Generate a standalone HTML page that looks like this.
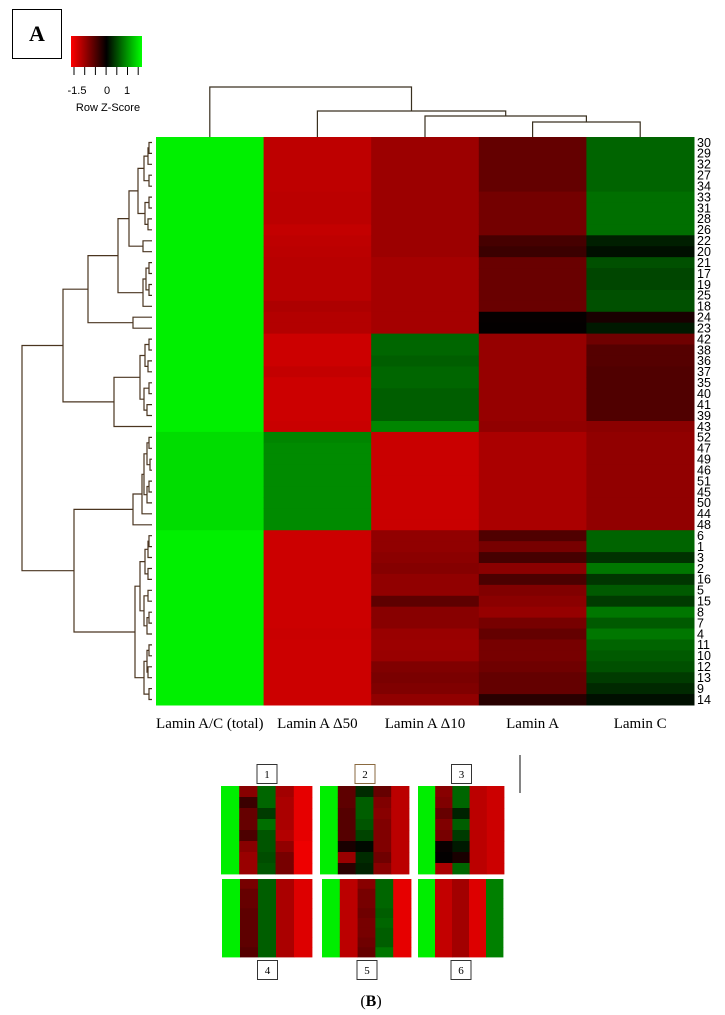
<!DOCTYPE html>
<html><head><meta charset="utf-8"><style>
html,body{margin:0;padding:0;background:#fff;width:725px;height:1015px;overflow:hidden}
svg{display:block}
</style></head><body>
<svg id="fig" width="725" height="1015" viewBox="0 0 725 1015" xmlns="http://www.w3.org/2000/svg">
<defs><linearGradient id="zgrad" x1="0" x2="1" y1="0" y2="0">
<stop offset="0" stop-color="#ff0000"/><stop offset="0.5" stop-color="#000"/><stop offset="1" stop-color="#00ff00"/></linearGradient></defs>
<g>
<rect x="12.5" y="9.5" width="49" height="49" fill="#fff" stroke="#000" stroke-width="1"/>
<text x="37" y="41" text-anchor="middle" font-family="Liberation Serif, serif" font-weight="bold" font-size="22">A</text></g>
<g>
<rect x="71" y="36" width="71" height="31" fill="url(#zgrad)"/>
<g id="keyticks" stroke="#000" stroke-width="1"></g>
<text x="77" y="94" text-anchor="middle" font-family="Liberation Sans, sans-serif" font-size="11">-1.5</text>
<text x="107" y="94" text-anchor="middle" font-family="Liberation Sans, sans-serif" font-size="11">0</text>
<text x="127" y="94" text-anchor="middle" font-family="Liberation Sans, sans-serif" font-size="11">1</text>
<text x="108" y="111" text-anchor="middle" font-family="Liberation Sans, sans-serif" font-size="11">Row Z-Score</text></g>
<g id="cells"></g>
<g id="rowlabels"></g>
<g id="collabels"></g>
<g id="rowdendro" stroke="#4a3520" stroke-width="1.2" fill="none"></g>
<g id="coldendro" stroke="#3a3020" stroke-width="1.2" fill="none"></g>
<g id="mini"></g>
<line x1="520" y1="755" x2="520" y2="793" stroke="#333" stroke-width="1.2"/>
<text x="371" y="1006" text-anchor="middle" font-family="Liberation Serif, serif" font-size="16">(<tspan font-weight="bold">B</tspan>)</text>
</svg>
<script>
const rowNames=["30","29","32","27","34","33","31","28","26","22","20","21","17","19","25","18","24","23","42","38","36","37","35","40","41","39","43","52","47","49","46","51","45","50","44","48","6","1","3","2","16","5","15","8","7","4","11","10","12","13","9","14"];
const colNames=["Lamin A/C (total)","Lamin A \u039450","Lamin A \u039410","Lamin A","Lamin C"];
const zTotal=[1.41,1.41,1.41,1.41,1.41,1.41,1.41,1.41,1.41,1.41,1.41,1.41,1.41,1.41,1.41,1.41,1.41,1.41,1.41,1.41,1.41,1.41,1.41,1.41,1.41,1.41,1.41,1.3,1.3,1.3,1.3,1.3,1.3,1.3,1.3,1.3,1.41,1.41,1.41,1.41,1.41,1.41,1.41,1.41,1.41,1.41,1.41,1.41,1.41,1.41,1.41,1.41];
const zD50=[-1.12,-1.12,-1.12,-1.12,-1.12,-1.1,-1.1,-1.1,-1.15,-1.12,-1.1,-1.08,-1.08,-1.08,-1.08,-1.02,-1.05,-1.05,-1.2,-1.2,-1.2,-1.15,-1.2,-1.2,-1.2,-1.2,-1.18,0.78,0.82,0.82,0.82,0.82,0.82,0.82,0.82,0.82,-1.2,-1.2,-1.2,-1.2,-1.2,-1.2,-1.2,-1.2,-1.2,-1.18,-1.2,-1.2,-1.2,-1.2,-1.2,-1.2];
const zD10=[-0.92,-0.92,-0.92,-0.92,-0.92,-0.92,-0.92,-0.92,-0.92,-0.92,-0.92,-0.97,-0.97,-0.97,-0.97,-0.97,-0.97,-0.97,0.6,0.6,0.55,0.6,0.6,0.55,0.55,0.55,0.78,-1.18,-1.18,-1.18,-1.18,-1.18,-1.18,-1.18,-1.18,-1.18,-0.85,-0.85,-0.82,-0.78,-0.85,-0.85,-0.55,-0.8,-0.8,-0.9,-0.92,-0.9,-0.75,-0.72,-0.75,-0.85];
const zLaminA=[-0.59,-0.59,-0.59,-0.59,-0.59,-0.68,-0.68,-0.68,-0.68,-0.41,-0.35,-0.62,-0.62,-0.62,-0.62,-0.62,-0.03,-0.02,-0.88,-0.88,-0.88,-0.88,-0.88,-0.88,-0.88,-0.88,-0.85,-1.0,-1.0,-1.0,-1.0,-1.0,-1.0,-1.0,-1.0,-1.0,-0.47,-0.7,-0.41,-0.82,-0.44,-0.76,-0.82,-0.88,-0.7,-0.59,-0.7,-0.7,-0.65,-0.59,-0.59,-0.24];
const zLaminC=[0.59,0.59,0.59,0.59,0.59,0.65,0.65,0.65,0.65,0.18,0.09,0.47,0.41,0.41,0.47,0.47,-0.15,0.15,-0.65,-0.5,-0.5,-0.47,-0.47,-0.47,-0.47,-0.47,-0.82,-0.85,-0.85,-0.85,-0.85,-0.85,-0.85,-0.85,-0.85,-0.85,0.59,0.59,0.29,0.7,0.32,0.53,0.35,0.7,0.53,0.7,0.59,0.53,0.47,0.35,0.24,0.09];
const rowMerges=[[0,1,3],[52,2,4],[3,4,3],[53,54,8],[5,6,3],[7,8,4],[56,57,7],[55,58,14],[9,10,9],[59,60,23],[11,12,3],[13,14,3],[62,63,6],[64,15,9],[61,65,34],[16,17,19],[66,67,64],[18,19,3],[20,21,4],[69,70,7],[22,23,3],[24,25,5],[72,73,8],[71,74,12],[75,26,38],[68,76,89],[27,28,3],[29,30,2],[31,32,3],[78,79,5],[80,33,5],[81,82,8],[83,34,10],[84,35,19],[36,37,3],[86,38,4],[39,40,4],[87,88,7],[41,42,4],[43,44,3],[91,45,5],[90,92,8],[89,93,12],[46,47,3],[48,49,4],[50,51,3],[95,96,5],[98,97,8],[94,99,17],[85,100,78],[77,101,130]];
const colMerges=[[3,4,15],[2,5,21],[1,6,26],[0,7,50]];
const miniZ=[
 [[1.4,1.4,1.4,1.4,1.4,1.4,1.4,1.4],[-0.8,-0.35,-0.6,-0.6,-0.45,-0.8,-0.9,-0.9],[0.6,0.6,0.35,0.65,0.5,0.5,0.45,0.5],[-0.95,-1.0,-1.0,-1.0,-1.05,-0.85,-0.7,-0.7],[-1.35,-1.35,-1.35,-1.35,-1.35,-1.4,-1.4,-1.4]],
 [[1.4,1.4,1.4,1.4,1.4,1.4,1.4,1.4],[-0.55,-0.55,-0.5,-0.5,-0.5,-0.15,-0.9,-0.25],[0.25,0.55,0.55,0.5,0.4,0.05,0.25,0.2],[-0.6,-0.75,-0.8,-0.75,-0.75,-0.75,-0.65,-0.8],[-1.1,-1.1,-1.1,-1.1,-1.1,-1.1,-1.1,-1.1]],
 [[1.4,1.4,1.4,1.4,1.4,1.4,1.4,1.4],[-0.8,-0.75,-0.6,-0.75,-0.7,-0.05,-0.02,-1.0],[0.6,0.6,0.2,0.55,0.35,0.15,-0.15,0.6],[-1.1,-1.1,-1.1,-1.1,-1.1,-1.1,-1.1,-1.1],[-1.2,-1.2,-1.2,-1.2,-1.2,-1.2,-1.2,-1.2]],
 [[1.4,1.4,1.4,1.4,1.4,1.4,1.4,1.4],[-0.7,-0.6,-0.6,-0.55,-0.55,-0.55,-0.55,-0.5],[0.55,0.55,0.55,0.55,0.55,0.55,0.55,0.55],[-1.0,-1.0,-1.0,-1.0,-1.0,-1.0,-1.0,-1.0],[-1.3,-1.3,-1.3,-1.3,-1.3,-1.3,-1.3,-1.3]],
 [[1.4,1.4,1.4,1.4,1.4,1.4,1.4,1.4],[-1.1,-1.1,-1.1,-1.1,-1.1,-1.1,-1.1,-1.1],[-0.8,-0.7,-0.7,-0.65,-0.7,-0.7,-0.65,-0.6],[0.6,0.6,0.6,0.55,0.6,0.55,0.55,0.7],[-1.35,-1.35,-1.35,-1.35,-1.35,-1.35,-1.35,-1.35]],
 [[1.4,1.4,1.4,1.4,1.4,1.4,1.4,1.4],[-1.15,-1.15,-1.15,-1.15,-1.15,-1.15,-1.15,-1.15],[-0.95,-0.95,-0.95,-0.95,-0.95,-0.95,-0.95,-0.95],[-1.3,-1.3,-1.3,-1.3,-1.3,-1.3,-1.3,-1.3],[0.75,0.75,0.75,0.75,0.75,0.75,0.75,0.75]]
];
const miniLabels=["1","2","3","4","5","6"];

const NS="http://www.w3.org/2000/svg";
function mk(tag,attrs,parent){const e=document.createElementNS(NS,tag);for(const k in attrs)e.setAttribute(k,attrs[k]);parent.appendChild(e);return e;}
function zColor(z){const v=Math.max(-1.5,Math.min(1.5,z));const c=Math.round(Math.abs(v)/1.5*255);return v<0?`rgb(${c},0,0)`:`rgb(0,${c},0)`;}
const HX0=156,HX1=694,HY0=137,HY1=705;
const cols=[zTotal,zD50,zD10,zLaminA,zLaminC];
const cw=(HX1-HX0)/cols.length, rh=(HY1-HY0)/rowNames.length;
const xCol=i=>HX0+i*cw, yRow=r=>HY0+r*rh;
const cellsG=document.getElementById('cells');
cols.forEach((arr,ci)=>arr.forEach((z,ri)=>{
 const r=mk('rect',{x:xCol(ci).toFixed(2),y:yRow(ri).toFixed(2),width:(cw+0.5).toFixed(2),height:(rh+0.5).toFixed(2),fill:zColor(z)},cellsG);
 
 
}));
const rl=document.getElementById('rowlabels');
rowNames.forEach((n,ri)=>{
 const t=mk('text',{x:HX1+3,y:(yRow(ri)+rh/2+4.3).toFixed(2),'font-family':'Liberation Sans, sans-serif','font-size':'12.5'},rl);
 t.textContent=n;
 
 
});
const cl=document.getElementById('collabels');
colNames.forEach((n,ci)=>{
 const t=mk('text',{x:(xCol(ci)+cw/2).toFixed(1),y:728,'text-anchor':'middle','font-family':'Liberation Serif, serif','font-size':'15'},cl);
 t.textContent=n;
 
 
});
// row dendrogram
const rd=document.getElementById('rowdendro');
const nodePos={};
const leafX=152;
rowNames.forEach((n,i)=>{nodePos[i]={x:leafX,y:yRow(i)+rh/2};});
rowMerges.forEach((m,k)=>{
 const a=nodePos[m[0]],b=nodePos[m[1]],x=leafX-m[2];
 const p=mk('path',{d:`M${a.x} ${a.y.toFixed(1)}H${x}V${b.y.toFixed(1)}H${b.x}`},rd);
 
 
 nodePos[52+k]={x:x,y:(a.y+b.y)/2};
});
// column dendrogram
const cd=document.getElementById('coldendro');
const cpos={};
colNames.forEach((n,i)=>{cpos[i]={x:xCol(i)+cw/2,y:HY0};});
colMerges.forEach((m,k)=>{
 const a=cpos[m[0]],b=cpos[m[1]],y=HY0-m[2];
 const p=mk('path',{d:`M${a.x.toFixed(1)} ${a.y}V${y}H${b.x.toFixed(1)}V${b.y}`},cd);
 
 
 cpos[5+k]={x:(a.x+b.x)/2,y:y};
});
// key ticks
const kt=document.getElementById('keyticks');
for(let i=0;i<7;i++){const x=74+i*10.7;mk('line',{x1:x,y1:67,x2:x,y2:75},kt);}
// mini panels
const mini=document.getElementById('mini');
const px=[221,320,418,222,322,418], py=[786,786,786,879,879,879], pw=[91,89,86,90,89,85], ph=[88,88,88,78,78,78];
miniZ.forEach((panel,pi)=>{
 const g=mk('g',{},mini);
 
 
 const w=pw[pi]/5,h=ph[pi]/panel[0].length;
 panel.forEach((col,ci)=>col.forEach((z,ri)=>{
  mk('rect',{x:(px[pi]+ci*w).toFixed(2),y:(py[pi]+ri*h).toFixed(2),width:(w+0.4).toFixed(2),height:(h+0.4).toFixed(2),fill:zColor(z)},g);
 }));
 const bx=px[pi]+pw[pi]/2-10, by=pi<3?764:960;
 const b=mk('g',{},mini);
 
 
 mk('rect',{x:bx+0.5,y:by+0.5,width:20,height:19,fill:'#fff',stroke:pi==1?'#8a6a40':'#333','stroke-width':1},b);
 const t=mk('text',{x:bx+10.5,y:by+14,'text-anchor':'middle','font-family':'Liberation Serif, serif','font-size':'11'},b);
 t.textContent=miniLabels[pi];
});
</script>
</body></html>
